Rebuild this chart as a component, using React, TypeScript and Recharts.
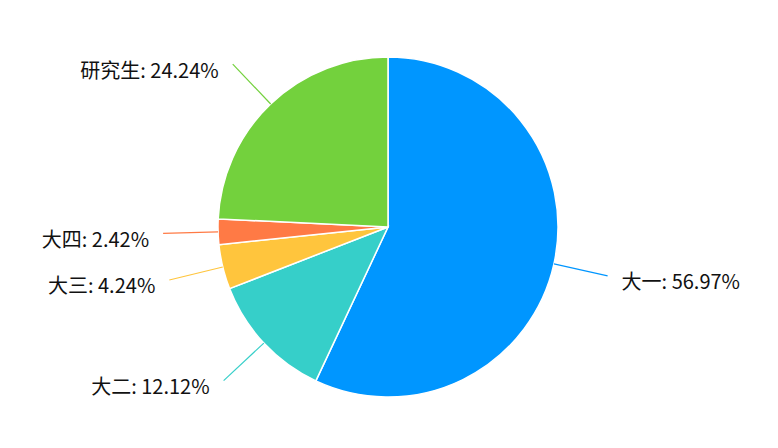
import { PieChart, Pie, Cell } from 'recharts'

document.body.style.margin = '0'

const categories = ['大一', '大二', '大三', '大四', '研究生']
const percents = [56.97, 12.12, 4.24, 2.42, 24.24]
const colors = ['#0096FF', '#36CFC9', '#FFC53D', '#FF7A45', '#73D13D']

const data = categories.map((name, i) => ({ name, value: percents[i] }))

const RAD = Math.PI / 180

function renderLabel(props: any) {
    const { cx, cy, midAngle, outerRadius, index } = props
    const r = outerRadius + 55
    const x = cx + r * Math.cos(-midAngle * RAD)
    const y = cy + r * Math.sin(-midAngle * RAD)
    const right = x > cx
    return (
        <text
            x={right ? x + 14 : x - 14}
            y={y + 5}
            textAnchor={right ? 'start' : 'end'}
            dominantBaseline="central"
            fill="#111"
            fontSize={20}
            fontFamily='"Noto Sans CJK SC", "Noto Sans", sans-serif'
        >
            {`${categories[index]}: ${percents[index].toFixed(2)}%`}
        </text>
    )
}

function renderLine(props: any) {
    const { cx, cy, midAngle, outerRadius, index } = props
    const x1 = cx + outerRadius * Math.cos(-midAngle * RAD)
    const y1 = cy + outerRadius * Math.sin(-midAngle * RAD)
    const x2 = cx + (outerRadius + 55) * Math.cos(-midAngle * RAD)
    const y2 = cy + (outerRadius + 55) * Math.sin(-midAngle * RAD)
    return <path d={`M${x1},${y1}L${x2},${y2}`} stroke={colors[index]} strokeWidth={1.2} fill="none" />
}

export default function App() {
    return (
        <div style={{ width: 778, height: 448, background: '#fff' }}>
            <PieChart width={778} height={448} margin={{ top: 0, right: 0, bottom: 0, left: 0 }}>
                <Pie
                    data={data}
                    dataKey="value"
                    nameKey="name"
                    cx={388}
                    cy={227}
                    outerRadius={170}
                    startAngle={90}
                    endAngle={-270}
                    stroke="#fff"
                    strokeWidth={1.5}
                    label={renderLabel}
                    labelLine={renderLine}
                    isAnimationActive={false}
                >
                    {data.map((d, i) => (
                        <Cell key={d.name} fill={colors[i]} />
                    ))}
                </Pie>
            </PieChart>
        </div>
    )
}
